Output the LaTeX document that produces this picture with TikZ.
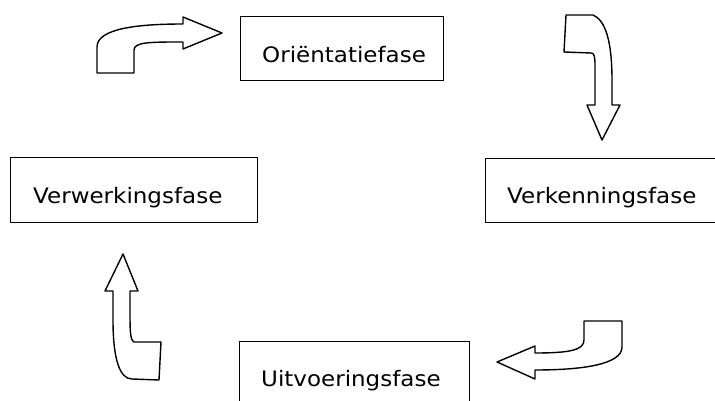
\documentclass[tikz,border=0pt]{standalone}
\usepackage{fontspec}
\setmainfont{DejaVu Sans}[FakeStretch=1.08]
\begin{document}
\begin{tikzpicture}[x=1pt,y=-1pt,
  box/.style={draw=black, line width=1.1pt, inner sep=0pt, anchor=north west},
  lbl/.style={inner sep=0pt, anchor=base west, font=\fontsize{21.3}{25}\selectfont},
  bentarrow/.style={draw=black, fill=white, line width=1.4pt, line join=round}]
\useasboundingbox (0,0) rectangle (715,401);
% boxes
\node[box, minimum width=203pt, minimum height=64pt] (orient) at (240,16) {};
\node[box, minimum width=245pt, minimum height=64pt] (verken) at (485,158) {};
\node[box, minimum width=230pt, minimum height=70pt] (uitvoer) at (239,341) {};
\node[box, minimum width=247pt, minimum height=65pt] (verwerk) at (10,157) {};
% labels
\node[lbl] (orientT) at (262,63) {Oriëntatiefase};
\node[lbl] (verkenT) at (507,203) {Verkenningsfase};
\node[lbl] (uitvoerT) at (261,386) {Uitvoeringsfase};
\node[lbl] (verwerkT) at (33,204) {Verwerkingsfase};
% curved block arrows
\draw[bentarrow] (97,73) -- (134,73) -- (134,50)
  .. controls (134,42) and (150,42) .. (183,42) -- (183,49) -- (222,33)
  -- (183,17) -- (183,24) .. controls (140,24) and (97,28) .. (97,47) -- cycle;
\draw[bentarrow] (566,15) -- (593,15) .. controls (605,20) and (612,40) .. (612,80)
  -- (612,105) -- (620,105) -- (602,140) -- (587,105) -- (595,105) -- (595,65)
  .. controls (595,56) and (594,53) .. (591,53) -- (564,52) -- cycle;
\draw[bentarrow] (584,321) -- (622,321) -- (622,347)
  .. controls (622,365) and (580,370) .. (535,370) -- (535,379) -- (497,362)
  -- (535,346) -- (535,353) .. controls (570,353) and (584,350) .. (584,340) -- cycle;
\draw[bentarrow] (132,379) -- (159,380) -- (161,342) -- (134,342)
  .. controls (130,340) and (130,330) .. (130,310) -- (130,291) -- (138,291)
  -- (123,254) -- (105,291) -- (113,291) -- (113,320)
  .. controls (113,360) and (120,379) .. (132,379) -- cycle;
\end{tikzpicture}
\end{document}
